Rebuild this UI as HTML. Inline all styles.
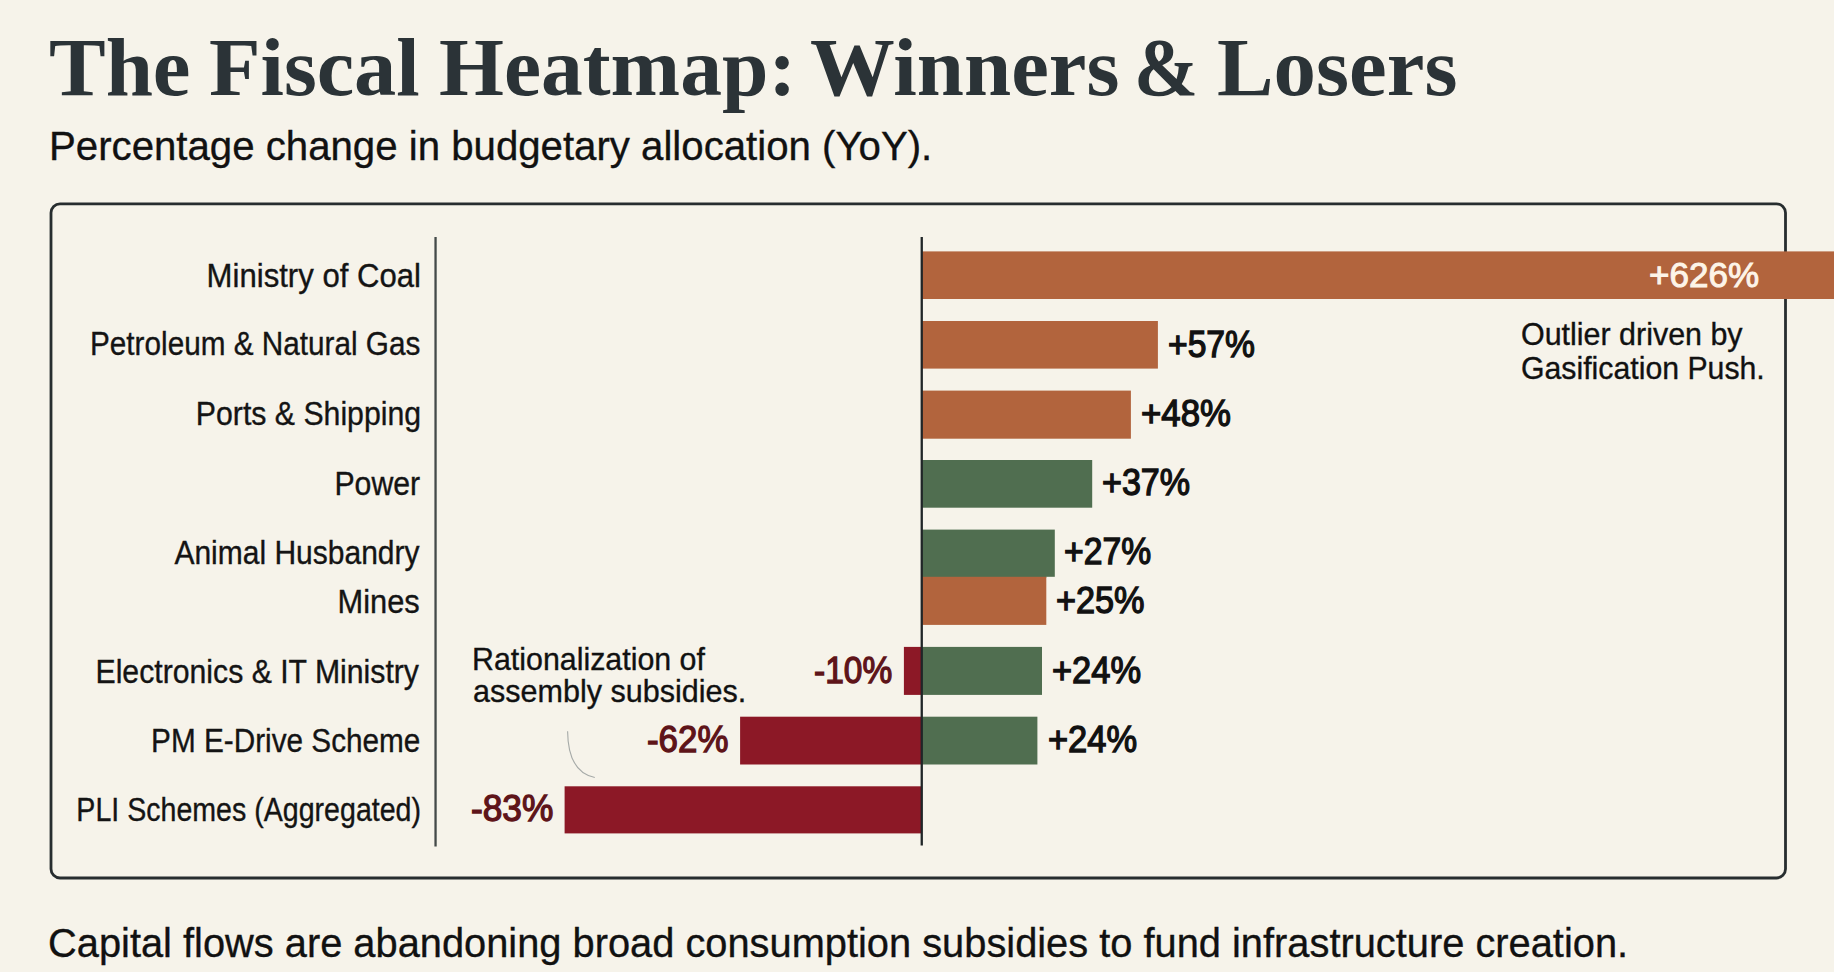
<!DOCTYPE html>
<html><head><meta charset="utf-8"><style>
html,body{margin:0;padding:0;}
body{width:1834px;height:972px;overflow:hidden;position:relative;background:#F6F3EA;}
</style></head><body>
<svg style="position:absolute;left:0;top:0" width="1834" height="972">
<rect x="51" y="203.8" width="1734.5" height="674.2" rx="9" ry="9" fill="none" stroke="#272D2F" stroke-width="2.8"/>
<rect x="434.40" y="237.00" width="2.30" height="609.50" fill="#444A49"/>
<rect x="922.00" y="251.40" width="912.00" height="47.60" fill="#B2643D"/>
<rect x="922.00" y="321.00" width="235.90" height="47.60" fill="#B2643D"/>
<rect x="922.00" y="390.60" width="208.90" height="48.10" fill="#B2643D"/>
<rect x="922.00" y="460.00" width="170.20" height="47.70" fill="#506E50"/>
<rect x="922.00" y="529.60" width="132.80" height="47.20" fill="#506E50"/>
<rect x="922.00" y="576.00" width="124.30" height="1.80" fill="#506E50"/>
<rect x="922.00" y="576.80" width="124.30" height="48.10" fill="#B2643D"/>
<rect x="922.00" y="646.90" width="120.00" height="48.00" fill="#506E50"/>
<rect x="922.00" y="716.70" width="115.40" height="47.80" fill="#506E50"/>
<rect x="903.90" y="646.90" width="17.10" height="48.00" fill="#8C1826"/>
<rect x="740.10" y="716.70" width="180.90" height="47.80" fill="#8C1826"/>
<rect x="564.60" y="786.30" width="356.40" height="47.10" fill="#8C1826"/>
<rect x="920.60" y="237.00" width="2.30" height="608.50" fill="#202527"/>
</svg>
<svg style="position:absolute;left:0;top:0" width="1834" height="972"><path d="M567.6 731.2 Q 568 772 594.8 777.5" fill="none" stroke="#A6AAA8" stroke-width="1.1"/></svg>
<div style="position:absolute;top:25.79px;font-family:'Liberation Serif', serif;font-weight:700;font-size:83px;line-height:83px;color:#2B3337;white-space:nowrap;left:49.33px;transform-origin:0 0;transform:scaleX(1.0230);">The</div>
<div style="position:absolute;top:25.79px;font-family:'Liberation Serif', serif;font-weight:700;font-size:83px;line-height:83px;color:#2B3337;white-space:nowrap;left:209.04px;transform-origin:0 0;transform:scaleX(1.0152);">Fiscal</div>
<div style="position:absolute;top:25.79px;font-family:'Liberation Serif', serif;font-weight:700;font-size:83px;line-height:83px;color:#2B3337;white-space:nowrap;left:438.85px;transform-origin:0 0;transform:scaleX(1.0063);">Heatmap:</div>
<div style="position:absolute;top:25.79px;font-family:'Liberation Serif', serif;font-weight:700;font-size:83px;line-height:83px;color:#2B3337;white-space:nowrap;left:809.73px;transform-origin:0 0;transform:scaleX(1.0219);">Winners</div>
<div style="position:absolute;top:25.79px;font-family:'Liberation Serif', serif;font-weight:700;font-size:83px;line-height:83px;color:#2B3337;white-space:nowrap;left:1133.97px;transform-origin:0 0;transform:scaleX(0.9275);">&</div>
<div style="position:absolute;top:25.79px;font-family:'Liberation Serif', serif;font-weight:700;font-size:83px;line-height:83px;color:#2B3337;white-space:nowrap;left:1216.73px;transform-origin:0 0;transform:scaleX(1.0225);">Losers</div>
<div style="position:absolute;top:124.67px;font-family:'Liberation Sans', sans-serif;font-weight:400;font-size:41.5px;line-height:41.5px;color:#111111;white-space:nowrap;left:48.98px;transform-origin:0 0;-webkit-text-stroke:0.35px #111111;transform:scaleX(0.9684);">Percentage change in budgetary allocation (YoY).</div>
<div style="position:absolute;top:922.17px;font-family:'Liberation Sans', sans-serif;font-weight:400;font-size:41.5px;line-height:41.5px;color:#111111;white-space:nowrap;left:48.41px;transform-origin:0 0;-webkit-text-stroke:0.35px #111111;transform:scaleX(0.9593);">Capital flows are abandoning broad consumption subsidies to fund infrastructure creation.</div>
<div style="position:absolute;top:259.79px;font-family:'Liberation Sans', sans-serif;font-weight:400;font-size:32.5px;line-height:32.5px;color:#141414;white-space:nowrap;left:197.20px;transform-origin:223.95px 0;-webkit-text-stroke:0.35px #141414;transform:scaleX(0.9571);">Ministry of Coal</div>
<div style="position:absolute;top:328.39px;font-family:'Liberation Sans', sans-serif;font-weight:400;font-size:32.5px;line-height:32.5px;color:#141414;white-space:nowrap;left:58.90px;transform-origin:361.27px 0;-webkit-text-stroke:0.35px #141414;transform:scaleX(0.9141);">Petroleum & Natural Gas</div>
<div style="position:absolute;top:397.99px;font-family:'Liberation Sans', sans-serif;font-weight:400;font-size:32.5px;line-height:32.5px;color:#141414;white-space:nowrap;left:178.94px;transform-origin:242.09px 0;-webkit-text-stroke:0.35px #141414;transform:scaleX(0.9304);">Ports & Shipping</div>
<div style="position:absolute;top:467.89px;font-family:'Liberation Sans', sans-serif;font-weight:400;font-size:32.5px;line-height:32.5px;color:#141414;white-space:nowrap;left:327.57px;transform-origin:92.12px 0;-webkit-text-stroke:0.35px #141414;transform:scaleX(0.9304);">Power</div>
<div style="position:absolute;top:537.29px;font-family:'Liberation Sans', sans-serif;font-weight:400;font-size:32.5px;line-height:32.5px;color:#141414;white-space:nowrap;left:153.57px;transform-origin:265.55px 0;-webkit-text-stroke:0.35px #141414;transform:scaleX(0.9231);">Animal Husbandry</div>
<div style="position:absolute;top:586.09px;font-family:'Liberation Sans', sans-serif;font-weight:400;font-size:32.5px;line-height:32.5px;color:#141414;white-space:nowrap;left:333.41px;transform-origin:86.70px 0;-webkit-text-stroke:0.35px #141414;transform:scaleX(0.9478);">Mines</div>
<div style="position:absolute;top:655.69px;font-family:'Liberation Sans', sans-serif;font-weight:400;font-size:32.5px;line-height:32.5px;color:#141414;white-space:nowrap;left:71.18px;transform-origin:347.96px 0;-webkit-text-stroke:0.35px #141414;transform:scaleX(0.9296);">Electronics & IT Ministry</div>
<div style="position:absolute;top:724.69px;font-family:'Liberation Sans', sans-serif;font-weight:400;font-size:32.5px;line-height:32.5px;color:#141414;white-space:nowrap;left:126.14px;transform-origin:294.38px 0;-webkit-text-stroke:0.35px #141414;transform:scaleX(0.9148);">PM E-Drive Scheme</div>
<div style="position:absolute;top:793.59px;font-family:'Liberation Sans', sans-serif;font-weight:400;font-size:32.5px;line-height:32.5px;color:#141414;white-space:nowrap;left:28.85px;transform-origin:392.03px 0;-webkit-text-stroke:0.35px #141414;transform:scaleX(0.8792);">PLI Schemes (Aggregated)</div>
<div style="position:absolute;top:327.03px;font-family:'Liberation Sans', sans-serif;font-weight:400;font-size:36px;line-height:36px;color:#111111;white-space:nowrap;left:1168.27px;transform-origin:0 0;transform:scaleX(0.9344);-webkit-text-stroke:1.3px #111111;">+57%</div>
<div style="position:absolute;top:395.83px;font-family:'Liberation Sans', sans-serif;font-weight:400;font-size:36px;line-height:36px;color:#111111;white-space:nowrap;left:1141.21px;transform-origin:0 0;transform:scaleX(0.9656);-webkit-text-stroke:1.3px #111111;">+48%</div>
<div style="position:absolute;top:465.43px;font-family:'Liberation Sans', sans-serif;font-weight:400;font-size:36px;line-height:36px;color:#111111;white-space:nowrap;left:1102.35px;transform-origin:0 0;transform:scaleX(0.9467);-webkit-text-stroke:1.3px #111111;">+37%</div>
<div style="position:absolute;top:534.03px;font-family:'Liberation Sans', sans-serif;font-weight:400;font-size:36px;line-height:36px;color:#111111;white-space:nowrap;left:1064.47px;transform-origin:0 0;transform:scaleX(0.9356);-webkit-text-stroke:1.3px #111111;">+27%</div>
<div style="position:absolute;top:583.03px;font-family:'Liberation Sans', sans-serif;font-weight:400;font-size:36px;line-height:36px;color:#111111;white-space:nowrap;left:1056.44px;transform-origin:0 0;transform:scaleX(0.9511);-webkit-text-stroke:1.3px #111111;">+25%</div>
<div style="position:absolute;top:653.23px;font-family:'Liberation Sans', sans-serif;font-weight:400;font-size:36px;line-height:36px;color:#111111;white-space:nowrap;left:1051.93px;transform-origin:0 0;transform:scaleX(0.9567);-webkit-text-stroke:1.3px #111111;">+24%</div>
<div style="position:absolute;top:722.23px;font-family:'Liberation Sans', sans-serif;font-weight:400;font-size:36px;line-height:36px;color:#111111;white-space:nowrap;left:1047.93px;transform-origin:0 0;transform:scaleX(0.9567);-webkit-text-stroke:1.3px #111111;">+24%</div>
<div style="position:absolute;top:653.23px;font-family:'Liberation Sans', sans-serif;font-weight:400;font-size:36px;line-height:36px;color:#5E1419;white-space:nowrap;left:814.14px;transform-origin:0 0;transform:scaleX(0.9300);-webkit-text-stroke:1.3px #5E1419;">-10%</div>
<div style="position:absolute;top:722.23px;font-family:'Liberation Sans', sans-serif;font-weight:400;font-size:36px;line-height:36px;color:#5E1419;white-space:nowrap;left:646.98px;transform-origin:0 0;transform:scaleX(0.9682);-webkit-text-stroke:1.3px #5E1419;">-62%</div>
<div style="position:absolute;top:791.13px;font-family:'Liberation Sans', sans-serif;font-weight:400;font-size:36px;line-height:36px;color:#5E1419;white-space:nowrap;left:470.56px;transform-origin:0 0;transform:scaleX(0.9793);-webkit-text-stroke:1.3px #5E1419;">-83%</div>
<div style="position:absolute;top:257.95px;font-family:'Liberation Sans', sans-serif;font-weight:400;font-size:35.5px;line-height:35.5px;color:#FDF4E8;white-space:nowrap;left:1649.05px;transform-origin:0 0;transform:scaleX(0.9868);-webkit-text-stroke:1px #FDF4E8;">+626%</div>
<div style="position:absolute;top:318.94px;font-family:'Liberation Sans', sans-serif;font-weight:400;font-size:31.5px;line-height:31.5px;color:#111111;white-space:nowrap;left:1521.43px;transform-origin:0 0;-webkit-text-stroke:0.35px #111111;transform:scaleX(0.9662);">Outlier driven by</div>
<div style="position:absolute;top:352.64px;font-family:'Liberation Sans', sans-serif;font-weight:400;font-size:31.5px;line-height:31.5px;color:#111111;white-space:nowrap;left:1521.29px;transform-origin:0 0;-webkit-text-stroke:0.35px #111111;transform:scaleX(0.9602);">Gasification Push.</div>
<div style="position:absolute;top:644.34px;font-family:'Liberation Sans', sans-serif;font-weight:400;font-size:31.5px;line-height:31.5px;color:#111111;white-space:nowrap;left:471.67px;transform-origin:0 0;-webkit-text-stroke:0.35px #111111;transform:scaleX(0.9639);">Rationalization of</div>
<div style="position:absolute;top:676.34px;font-family:'Liberation Sans', sans-serif;font-weight:400;font-size:31.5px;line-height:31.5px;color:#111111;white-space:nowrap;left:472.88px;transform-origin:0 0;-webkit-text-stroke:0.35px #111111;transform:scaleX(0.9691);">assembly subsidies.</div>
</body></html>
